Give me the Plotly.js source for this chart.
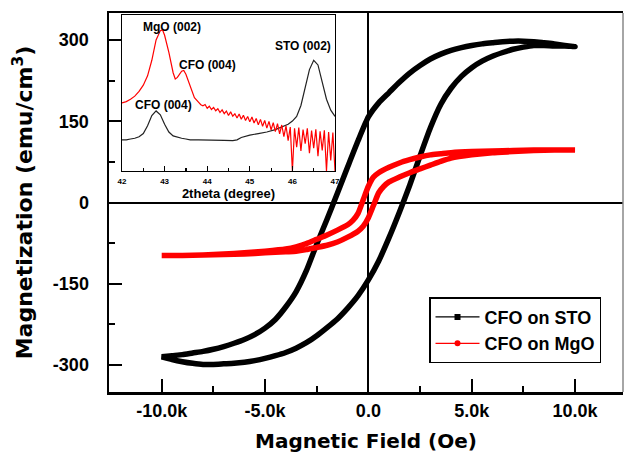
<!DOCTYPE html>
<html>
<head>
<meta charset="utf-8">
<script src="https://cdn.plot.ly/plotly-3.0.1.min.js"></script>
<style>html,body{margin:0;padding:0;background:#fff;}#chart{width:625px;height:454px;}</style>
</head>
<body>
<div id="chart"></div>
<script>
// ---------- Main hysteresis data (field in Oe, magnetization in emu/cm3) ----------
const FIELD_DOWN = [10000,9500,9000,8500,8000,7500,7000,6500,6000,5500,5000,4500,4000,3500,3000,2500,2000,1500,1000,500,0,
  -500,-1000,-1500,-2000,-2500,-3000,-3500,-4000,-4500,-5000,-5500,-6000,-6500,-7000,-7500,-8000,-8500,-9000,-9500,-10000];
const FIELD_UP = [-10000,-9500,-9000,-8500,-8000,-7500,-7000,-6500,-6000,-5500,-5000,-4500,-4000,-3500,-3000,-2500,-2000,-1500,-1000,-500,0,
  500,1000,1500,2000,2500,3000,3500,4000,4500,5000,5500,6000,6500,7000,7500,8000,8500,9000,9500,10000];
const STO_M_DOWN = [288,290,293,295,297,298,298,297,295,293,290,286,281,274,265,253,239,222,203,184,158,
  114,66,17,-31,-77,-126,-165,-193,-216,-232,-244,-253,-260,-266,-271,-275,-278,-281,-283,-285];
const STO_M_UP = [-285,-290,-294,-297,-299,-299,-298,-297,-295,-292,-288,-283,-277,-269,-259,-246,-231,-215,-195,-172,-143,
  -108,-65,-18,32,86,138,181,211,233,249,261,270,277,283,287,290,290,289,289,288];

const MGO_FIELD_DOWN = [10000,9000,8000,7000,6000,5000,4000,3500,3000,2500,2000,1500,1000,500,250,0,-250,-500,-750,-1000,
  -1500,-2000,-2500,-3000,-3500,-4000,-5000,-6000,-7000,-8000,-9000,-10000];
const MGO_M_DOWN = [97,97,97,96,95,94,92,90,88,84,79,73,65,55,47,30,5,-20,-33,-41,
  -51,-60,-68,-76,-82,-86,-90,-93,-95,-97,-98,-98];
const MGO_FIELD_UP = [-10000,-9000,-8000,-7000,-6000,-5000,-4000,-3500,-3000,-2500,-2000,-1500,-1000,-500,-250,0,250,500,750,1000,
  1500,2000,2500,3000,3500,4000,5000,6000,7000,8000,9000,10000];
const MGO_M_UP = [-98,-98,-97,-96,-95,-93,-91,-90,-87,-83,-79,-73,-64,-53,-44,-28,-5,18,30,38,
  47,55,62,69,76,82,88,92,94,96,97,97];

const SERIES_NAMES = ["CFO on STO", "CFO on MgO"];
const X_TICKS = [-10000,-5000,0,5000,10000];
const X_TICK_TEXT = ["-10.0k","-5.0k","0.0","5.0k","10.0k"];
const X_MINOR = [-7500,-2500,2500,7500];
const Y_TICKS = [-300,-150,0,150,300];
const Y_TICK_TEXT = ["-300","-150","0","150","300"];
const Y_MINOR = [-225,-75,75,225];

// ---------- Inset XRD data (2theta in degree, intensity arb.) ----------
const STO_2THETA = [42.0,42.1,42.2,42.3,42.4,42.5,42.6,42.7,42.8,42.9,43.0,43.1,43.2,43.3,43.4,43.5,43.6,43.8,44.0,44.2,44.4,44.6,44.7,
  44.8,44.9,45.0,45.2,45.4,45.6,45.8,45.9,46.0,46.1,46.2,46.3,46.4,46.5,46.6,46.7,46.8,46.9,47.0];
const STO_XRD = [20,20,20.5,21,22,24,29,35.5,38.5,36,30,25,22.5,21.5,21,20.5,20,20,20,20,19.7,19.5,20,
  21.5,22.5,23,24,25,26.5,28.5,30,32,35,42,54,65,71,68,57,46,39,35];
const MGO_2THETA = [42.0,42.1,42.2,42.3,42.4,42.5,42.6,42.7,42.8,42.9,42.95,43.0,43.1,43.2,43.25,43.3,43.4,43.45,43.5,43.6,43.7,43.8,
  43.85,43.9,43.95,44.0,44.05,44.1,44.15,44.2,44.25,44.3,44.35,44.4,44.45,44.5,44.55,44.6,44.65,44.7,44.75,44.8,44.85,44.9,44.95,
  45.0,45.05,45.1,45.15,45.2,45.25,45.3,45.35,45.4,45.45,45.5,45.55,45.6,45.65,45.7,45.75,45.8,45.85,45.9,45.95,
  46.0,46.05,46.1,46.15,46.2,46.25,46.3,46.35,46.4,46.45,46.5,46.55,46.6,46.65,46.7,46.75,46.8,46.85,46.9,46.95,47.0];
const MGO_XRD = [43.6,44.5,46,48,51,55,61,71,84,90,90.5,87,76,63,59,60,64,64.5,62,54,47,44,
  42.5,41.8,42.6,40.2,41.5,39.4,40.8,38.6,39.9,37.5,39.2,36.8,38.4,35.6,37.9,35.1,36.7,34.0,36.5,33.2,35.8,32.4,35.0,
  31.5,34.6,30.8,33.7,29.6,33.1,28.7,32.4,27.5,31.8,26.4,31.0,25.2,30.3,23.8,29.5,22.1,29.0,19.5,28.2,
  0,27.4,15.2,27.9,12.8,26.6,17.5,27.3,11.4,26.0,14.6,26.8,9.5,25.4,13.2,26.1,0,25.0,6.8,24.6,0];
const INSET_LABELS = ["MgO (002)","CFO (004)","CFO (004)","STO (002)"];
const INSET_LABEL_X = [43.17, 44.0, 42.97, 46.24];
const INSET_LABEL_Y = [92.5, 68, 42.3, 80];
const INSET_X_TICKS = [42,43,44,45,46,47];
const INSET_X_MINOR = [42.5,43.5,44.5,45.5,46.5];

const AR = "Liberation Sans, Arial, sans-serif";
const DJ = "DejaVu Sans, Liberation Sans, sans-serif";

const traces = [
  {x: FIELD_DOWN.concat(FIELD_UP), y: STO_M_DOWN.concat(STO_M_UP), mode: "lines", xaxis: "x", yaxis: "y",
   line: {color: "#000", width: 5.5, shape: "spline", smoothing: 0.6}, showlegend: false, hoverinfo: "skip"},
  {x: MGO_FIELD_DOWN.concat(MGO_FIELD_UP), y: MGO_M_DOWN.concat(MGO_M_UP), mode: "lines", xaxis: "x", yaxis: "y",
   line: {color: "#ff0000", width: 5.5, shape: "spline", smoothing: 0.6}, showlegend: false, hoverinfo: "skip"},
  {x: [null], y: [null], mode: "lines+markers", name: SERIES_NAMES[0], line: {color: "#000", width: 1.2},
   marker: {symbol: "square", size: 6, color: "#000"}},
  {x: [null], y: [null], mode: "lines+markers", name: SERIES_NAMES[1], line: {color: "#ff0000", width: 1.2},
   marker: {symbol: "circle", size: 6, color: "#ff0000"}},
  {x: STO_2THETA, y: STO_XRD, mode: "lines", xaxis: "x2", yaxis: "y2", line: {color: "#222", width: 1.2},
   showlegend: false, hoverinfo: "skip"},
  {x: MGO_2THETA, y: MGO_XRD, mode: "lines", xaxis: "x2", yaxis: "y2", line: {color: "#ff0000", width: 1.2},
   showlegend: false, hoverinfo: "skip"}
];

const annotations = INSET_LABELS.map((t, i) => ({
  text: t, x: INSET_LABEL_X[i], y: INSET_LABEL_Y[i], xref: "x2", yref: "y2", showarrow: false,
  font: {family: AR, size: 12, weight: "bold", color: "#000"}
}));

const layout = {
  width: 625, height: 454,
  margin: {l: 109, r: 2, t: 13, b: 62},
  paper_bgcolor: "#fff", plot_bgcolor: "rgba(0,0,0,0)",
  font: {family: AR, color: "#000"},
  showlegend: true,
  legend: {x: 0.6226, y: 0.25, xanchor: "left", yanchor: "top", bgcolor: "#fff", bordercolor: "#000", borderwidth: 1.5,
    font: {family: AR, size: 18, weight: "bold", color: "#000"}, itemwidth: 44, tracegroupgap: 0},
  xaxis: {domain: [0, 1], range: [-12550, 12320], tickmode: "array", tickvals: X_TICKS, ticktext: X_TICK_TEXT,
    ticks: "inside", ticklen: 13, tickwidth: 2, tickcolor: "#000",
    minor: {tickmode: "array", tickvals: X_MINOR, ticks: "inside", ticklen: 6, tickwidth: 2, tickcolor: "#000"},
    showline: true, linewidth: 2.5, linecolor: "#000", mirror: true, showgrid: false,
    zeroline: true, zerolinecolor: "#000", zerolinewidth: 2,
    tickfont: {family: AR, size: 18, weight: "bold"}, ticklabelstandoff: 1,
    title: {text: "Magnetic Field (Oe)", font: {family: DJ, size: 20, weight: "bold"}, standoff: 14}},
  yaxis: {domain: [0, 1], range: [-350, 350], tickmode: "array", tickvals: Y_TICKS, ticktext: Y_TICK_TEXT,
    ticks: "inside", ticklen: 13, tickwidth: 2, tickcolor: "#000",
    minor: {tickmode: "array", tickvals: Y_MINOR, ticks: "inside", ticklen: 6, tickwidth: 2, tickcolor: "#000"},
    showline: true, linewidth: 2.5, linecolor: "#000", mirror: false, showgrid: false,
    zeroline: true, zerolinecolor: "#000", zerolinewidth: 2,
    tickfont: {family: AR, size: 18, weight: "bold"}, ticklabelstandoff: 14,
    title: {text: "Magnetization (emu/cm<sup>3</sup>)", font: {family: DJ, size: 22, weight: "bold"}, standoff: 14}},
  xaxis2: {domain: [0.0253, 0.4397], anchor: "y2", range: [42, 47], tickmode: "array", tickvals: INSET_X_TICKS,
    ticks: "inside", ticklen: 5, tickwidth: 1.2, tickcolor: "#000",
    minor: {tickmode: "array", tickvals: INSET_X_MINOR, ticks: "inside", ticklen: 3, tickwidth: 1.2, tickcolor: "#000"},
    showline: true, linewidth: 1.2, linecolor: "#000", mirror: true, showgrid: false, zeroline: false,
    tickfont: {family: AR, size: 8, weight: "bold"}, ticklabelstandoff: 2,
    title: {text: "2theta (degree)", font: {family: AR, size: 13, weight: "bold"}, standoff: 2}},
  yaxis2: {domain: [0.5831, 0.9947], anchor: "x2", range: [0, 100], showticklabels: false, ticks: "",
    showline: true, linewidth: 1.2, linecolor: "#000", mirror: true, showgrid: false, zeroline: false},
  annotations: annotations,
  shapes: [{type: "line", xref: "paper", yref: "paper", x0: 1, x1: 1, y0: 0, y1: 1, line: {color: "#888", width: 1.5}}]
};

Plotly.newPlot("chart", traces, layout, {displayModeBar: false, staticPlot: true});
</script>
</body>
</html>
